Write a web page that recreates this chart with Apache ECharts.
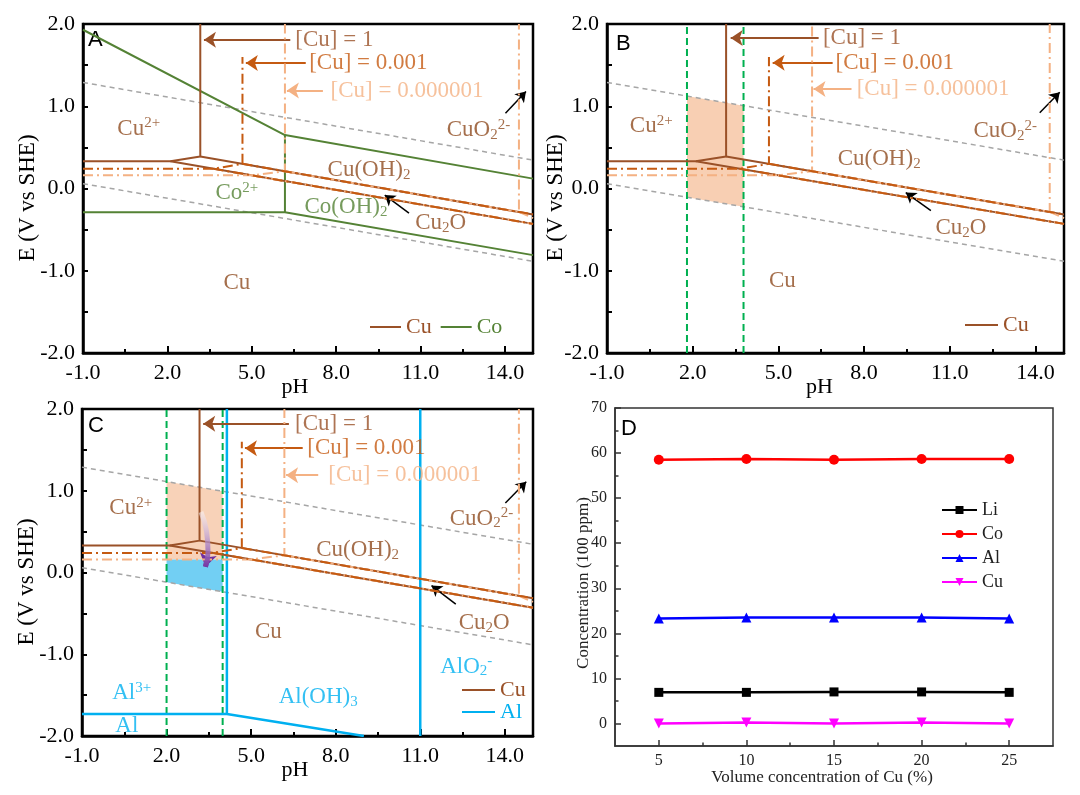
<!DOCTYPE html>
<html><head><meta charset="utf-8">
<script src="https://cdn.jsdelivr.net/npm/echarts@6/dist/echarts.min.js"></script>
<style>html,body{margin:0;padding:0;background:#fff}#c{width:1080px;height:795px}</style>
</head><body><div id="c"></div>
<script>
// ================= DATA =================
// Pourbaix axes
const pHLabelTicks = [-1, 2, 5, 8, 11, 14];
const pHMinorTicks = [0.5, 3.5, 6.5, 9.5, 12.5];
const eLabelTicks = [-2, -1, 0, 1, 2];
const eTicks = [-2, -1.5, -1, -0.5, 0, 0.5, 1, 1.5, 2];

// water stability lines (pH, E)
const waterUpper = [[-1, 1.289], [15, 0.345]];
const waterLower = [[-1, 0.059], [15, -0.885]];

// Cu boundaries, [Cu] = 1
const cu1Lines = [
  [[-1, 0.33], [2.11, 0.33], [3.17, 0.39], [3.17, 2.0]],
  [[3.17, 0.39], [15, -0.315]],
  [[2.11, 0.33], [15, -0.43]]
];
// [Cu] = 0.001
const cu3Lines = [
  [[-1, 0.24], [3.64, 0.24], [4.67, 0.30], [4.67, 1.6]],
  [[4.67, 0.30], [15, -0.315]],
  [[3.64, 0.24], [15, -0.43]]
];
// [Cu] = 0.000001
const cu6Lines = [
  [[-1, 0.16], [4.99, 0.16], [6.18, 0.21], [6.18, 2.0]],
  [[6.18, 0.21], [14.5, -0.285], [14.5, 2.0]],
  [[14.5, -0.285], [15, -0.36]],
  [[4.99, 0.16], [15, -0.43]]
];
// Co boundaries (panel A)
const coLines = [
  [[-1, 1.93], [6.18, 0.65], [15, 0.12]],
  [[6.18, 0.65], [6.18, -0.29]],
  [[-1, -0.29], [6.18, -0.29], [15, -0.81]]
];
// Al boundaries (panel C)
const alLines = [
  [[-1, -1.73], [4.14, -1.73], [9.0, -2.0]],
  [[4.14, -1.73], [4.14, 2.0]],
  [[11.0, -2.0], [11.0, 2.0]]
];
const greenPHB = [1.8, 3.78];
const greenPHC = [2.0, 3.99];
const shadeB = [[1.8, 1.124], [3.78, 1.007], [3.78, -0.223], [1.8, -0.106]];
const shadeCPeach = [[2.0, 1.112], [3.99, 0.995], [3.99, 0.16], [2.0, 0.16]];
const shadeCBlue = [[2.0, 0.16], [3.99, 0.16], [3.99, -0.235], [2.0, -0.118]];
const purpleArrowC = [[3.22, 0.74], [3.42, 0.5], [3.47, 0.25], [3.38, 0.07]];

// text labels: [text, pH, E, colourKey]
const regionLabelsA = [
  ['Cu{sup|2+}', 0.98, 0.73, 'cu'], ['CuO{sub|2}{sup|2-}', 13.06, 0.71, 'cu'],
  ['Cu(OH){sub|2}', 9.17, 0.225, 'cu'], ['Cu{sub|2}O', 11.72, -0.42, 'cu'],
  ['Cu', 4.47, -1.15, 'cu'], ['Co{sup|2+}', 4.47, -0.05, 'co'], ['Co(OH){sub|2}', 8.35, -0.23, 'co']
];
const regionLabelsB = [
  ['Cu{sup|2+}', 0.55, 0.76, 'cu'], ['CuO{sub|2}{sup|2-}', 12.94, 0.70, 'cu'],
  ['Cu(OH){sub|2}', 8.53, 0.355, 'cu'], ['Cu{sub|2}O', 11.39, -0.485, 'cu'], ['Cu', 5.14, -1.13, 'cu']
];
const regionLabelsC = [
  ['Cu{sup|2+}', 0.73, 0.79, 'cu'], ['CuO{sub|2}{sup|2-}', 13.17, 0.66, 'cu'],
  ['Cu(OH){sub|2}', 8.78, 0.276, 'cu'], ['Cu{sub|2}O', 13.27, -0.615, 'cu'], ['Cu', 5.61, -0.725, 'cu'],
  ['AlO{sub|2}{sup|-}', 12.63, -1.15, 'al'], ['Al{sup|3+}', 0.76, -1.47, 'al'],
  ['Al(OH){sub|3}', 7.38, -1.52, 'al'], ['Al', 0.59, -1.88, 'al']
];
const concLabelsA = [['[Cu] = 1', 6.55, 1.81, 'c1'], ['[Cu] = 0.001', 7.04, 1.525, 'c3'], ['[Cu] = 0.000001', 7.8, 1.19, 'c6']];
const concLabelsB = [['[Cu] = 1', 6.56, 1.83, 'c1'], ['[Cu] = 0.001', 7.0, 1.53, 'c3'], ['[Cu] = 0.000001', 7.74, 1.21, 'c6']];
const concLabelsC = [['[Cu] = 1', 6.56, 1.82, 'c1'], ['[Cu] = 0.001', 6.99, 1.52, 'c3'], ['[Cu] = 0.000001', 7.74, 1.19, 'c6']];
// arrows: [from, to, colourKey]
const arrowsA = [[[6.37, 1.81], [3.3, 1.81], 'c1'], [[6.92, 1.525], [4.79, 1.525], 'c3'], [[7.53, 1.19], [6.25, 1.19], 'c6'],
  [[14.02, 0.916], [14.75, 1.18], 'k'], [[10.59, -0.30], [9.73, -0.08], 'k']];
const arrowsB = [[[6.41, 1.83], [3.33, 1.83], 'c1'], [[6.9, 1.53], [4.8, 1.53], 'c3'], [[7.56, 1.21], [6.23, 1.21], 'c6'],
  [[14.15, 0.92], [14.85, 1.17], 'k'], [[10.34, -0.27], [9.46, -0.05], 'k']];
const arrowsC = [[[6.34, 1.82], [3.3, 1.82], 'c1'], [[6.83, 1.52], [4.78, 1.52], 'c3'], [[7.38, 1.19], [6.24, 1.19], 'c6'],
  [[14.02, 0.85], [14.76, 1.11], 'k'], [[12.26, -0.386], [11.4, -0.16], 'k']];

// Panel D
const dCategories = [5, 10, 15, 20, 25];
const dXLabels = [5, 10, 15, 20, 25];
const dXMinor = [7.5, 12.5, 17.5, 22.5];
const dYLabels = [0, 10, 20, 30, 40, 50, 60, 70];
const dYMinor = [5, 15, 25, 35, 45, 55, 65];
const liValues = [6.9, 6.9, 7.0, 7.0, 6.9];
const coValues = [58.5, 58.7, 58.5, 58.7, 58.7];
const alValues = [23.3, 23.5, 23.5, 23.5, 23.3];
const cuValues = [0.0, 0.2, 0.0, 0.2, 0.0];

// ================= STYLE / LAYOUT =================
const SERIF = '"Liberation Serif", "Times New Roman", serif';
const SANS = '"Liberation Sans", Arial, sans-serif';
const COL = { c1: '#9a5128', c3: '#c55a11', c6: '#f4b183', cu: '#8f4b1f', co: '#548235', al: '#00b0f0', k: '#000000' };
const panels = [
  { left: 83, top: 24, width: 450, height: 329, letter: 'A', lx: 88, ly: 29, yGap: 44, xPad: 26 },
  { left: 607, top: 24, width: 457, height: 329, letter: 'B', lx: 616, ly: 33, yGap: 40, xPad: 32 },
  { left: 82, top: 409, width: 451, height: 327, letter: 'C', lx: 88, ly: 415, yGap: 44, xPad: 25 }
];
const dGrid = { left: 615, top: 408, width: 438, height: 338 };

const grids = [], xAxes = [], yAxes = [], series = [], graphics = [];

function richFor(color, size) {
  const s = Math.round(size * 0.64), p = Math.round(size * 0.45);
  return {
    sup: { fontSize: s, fontFamily: SERIF, color, padding: [0, 0, p, 0] },
    sub: { fontSize: s, fontFamily: SERIF, color, padding: [p, 0, 0, 0] }
  };
}
function poly(name, pts, xi, yi, color, width, type, z) {
  return { type: 'line', name, xAxisIndex: xi, yAxisIndex: yi, data: pts, symbol: 'none', showSymbol: false,
    lineStyle: { color, width, type }, itemStyle: { color }, silent: true, z: z || 2, clip: true, emphasis: { disabled: true } };
}
function shade(pts, color, xi, yi) {
  return { type: 'custom', xAxisIndex: xi, yAxisIndex: yi, data: [pts[0]], silent: true, z: 1,
    renderItem: (params, api) => ({ type: 'polygon', shape: { points: pts.map(p => api.coord(p)) }, style: { fill: color } }) };
}
function textSeries(items, xi, yi, size, align) {
  return { type: 'scatter', xAxisIndex: xi, yAxisIndex: yi, symbolSize: 1, silent: true, z: 10,
    itemStyle: { color: 'rgba(0,0,0,0)' },
    data: items.map(it => ({ value: [it[1], it[2]], label: { show: true, position: 'inside', align, verticalAlign: 'middle',
      formatter: it[0], color: COL[it[3]], fontSize: size, fontFamily: SERIF, rich: richFor(COL[it[3]], size) } })) };
}
function arrowLine(from, to, color, width, headSize, xi, yi) {
  return { type: 'line', xAxisIndex: xi, yAxisIndex: yi, data: [from], symbol: 'none', lineStyle: { width: 0 },
    itemStyle: { color }, silent: true, z: 9,
    markLine: { silent: true, animation: false, symbol: ['none', 'arrow'], symbolSize: headSize,
      label: { show: false }, emphasis: { disabled: true },
      itemStyle: { color },
      lineStyle: { color, width, type: 'solid' },
      data: [[{ coord: from }, { coord: to }]] } };
}

panels.forEach((p, i) => {
  grids.push({ left: p.left, top: p.top, width: p.width, height: p.height, show: true, borderColor: '#000', borderWidth: 2.5,
    backgroundColor: 'transparent', outerBoundsMode: 'none' });
  const axisLine = { show: true, onZero: false, lineStyle: { color: '#000', width: 2.5 } };
  xAxes.push({ gridIndex: i, type: 'value', min: -1, max: 15, position: 'bottom', axisLine,
    axisTick: { show: true, inside: true, length: 7, customValues: pHLabelTicks, lineStyle: { color: '#000', width: 2 } },
    axisLabel: { show: true, customValues: pHLabelTicks, formatter: v => v.toFixed(1), fontSize: 22, fontFamily: SERIF, color: '#000', margin: 9 },
    splitLine: { show: false },
    name: 'pH', nameLocation: 'middle', nameGap: 23, nameMoveOverlap: false,
    nameTextStyle: { fontSize: 22, fontFamily: SERIF, color: '#000', padding: [0, p.xPad, 0, 0] } });
  xAxes.push({ gridIndex: i, type: 'value', min: -1, max: 15, position: 'bottom', axisLine: { show: false, onZero: false },
    axisTick: { show: true, inside: true, length: 4, customValues: pHMinorTicks, lineStyle: { color: '#000', width: 2 } },
    axisLabel: { show: false }, splitLine: { show: false } });
  yAxes.push({ gridIndex: i, type: 'value', min: -2, max: 2, position: 'left', axisLine,
    axisTick: { show: true, inside: true, length: 5, customValues: eTicks, lineStyle: { color: '#000', width: 2 } },
    axisLabel: { show: true, customValues: eLabelTicks, formatter: v => v.toFixed(1), fontSize: 22, fontFamily: SERIF, color: '#000', margin: 8 },
    splitLine: { show: false },
    name: 'E (V vs SHE)', nameLocation: 'middle', nameGap: p.yGap, nameMoveOverlap: false,
    nameTextStyle: { fontSize: 23, fontFamily: SERIF, color: '#000', padding: [0, 19, 0, 0] } });
  graphics.push({ type: 'text', left: p.lx, top: p.ly, style: { text: p.letter, fontSize: 22, fontFamily: SANS, fill: '#000' } });

  const xi = 2 * i, yi = i;
  if (i === 1) series.push(shade(shadeB, '#f8cfb3', xi, yi));
  if (i === 2) { series.push(shade(shadeCPeach, '#f8d2b8', xi, yi)); series.push(shade(shadeCBlue, '#72cff3', xi, yi)); }
  series.push(poly('_w', waterUpper, xi, yi, '#a6a6a6', 1.5, [5, 4]));
  series.push(poly('_w', waterLower, xi, yi, '#a6a6a6', 1.5, [5, 4]));
  const greens = i === 1 ? greenPHB : i === 2 ? greenPHC : [];
  greens.forEach(ph => series.push(poly('_g', [[ph, -2], [ph, 2]], xi, yi, '#00b050', 2, [7, 4], 3)));
  if (i === 0) coLines.forEach((l, k) => series.push(poly(k === 0 ? 'Co' : '_co', l, xi, yi, COL.co, 2, 'solid', 3)));
  if (i === 2) alLines.forEach((l, k) => series.push(poly(k === 0 ? 'Al' : '_al', l, xi, yi, COL.al, 2.5, 'solid', 3)));
  cu1Lines.forEach((l, k) => series.push(poly(k === 0 ? 'Cu' : '_cu1', l, xi, yi, COL.c1, 2, 'solid', 4)));
  cu6Lines.forEach(l => series.push(poly('_cu6', l, xi, yi, COL.c6, 2, [10, 4, 2, 4], 5)));
  cu3Lines.forEach(l => series.push(poly('_cu3', l, xi, yi, COL.c3, 2, [10, 4, 2, 4], 6)));
  if (i === 2) {
    const pa = poly('_pa', purpleArrowC, xi, yi, { type: 'linear', x: 0, y: 0, x2: 0, y2: 1,
      colorStops: [{ offset: 0, color: 'rgba(255,255,255,0.5)' }, { offset: 1, color: '#7030a0' }] }, 5, 'solid', 8);
    pa.smooth = true;
    series.push(pa);
    series.push(arrowLine([3.44, 0.16], purpleArrowC[3], '#7030a0', 5, 13, xi, yi));
  }
  const regs = [regionLabelsA, regionLabelsB, regionLabelsC][i];
  const concs = [concLabelsA, concLabelsB, concLabelsC][i];
  const arrs = [arrowsA, arrowsB, arrowsC][i];
  series.push(textSeries(regs, xi, yi, 23, 'center'));
  series.push(textSeries(concs, xi, yi, 23, 'left'));
  arrs.forEach(a => {
    const black = a[2] === 'k';
    series.push(arrowLine(a[0], a[1], COL[a[2]], black ? 1.5 : 2, black ? 10 : 12, xi, yi));
  });
});

// ---- panel D ----
grids.push(Object.assign({ show: true, borderColor: '#333', borderWidth: 1.5, backgroundColor: 'transparent', outerBoundsMode: 'none' }, dGrid));
const dLine = { show: true, onZero: false, lineStyle: { color: '#333', width: 1.5 } };
xAxes.push({ gridIndex: 3, type: 'value', min: 2.5, max: 27.5, position: 'bottom', axisLine: dLine,
  axisTick: { show: true, inside: true, length: 6, customValues: dXLabels, lineStyle: { color: '#333', width: 1.5 } },
  axisLabel: { show: true, customValues: dXLabels, fontSize: 16, fontFamily: SERIF, color: '#222', margin: 7 },
  splitLine: { show: false },
  name: 'Volume concentration of Cu (%)', nameLocation: 'middle', nameGap: 23, nameMoveOverlap: false,
  nameTextStyle: { fontSize: 17, fontFamily: SERIF, color: '#222', padding: [0, 24, 0, 0] } });
xAxes.push({ gridIndex: 3, type: 'value', min: 2.5, max: 27.5, position: 'bottom', axisLine: { show: false, onZero: false },
  axisTick: { show: true, inside: true, length: 3.5, customValues: dXMinor, lineStyle: { color: '#333', width: 1.5 } },
  axisLabel: { show: false }, splitLine: { show: false } });
yAxes.push({ gridIndex: 3, type: 'value', min: -5, max: 70, position: 'left', axisLine: dLine,
  axisTick: { show: true, inside: true, length: 6, customValues: dYLabels, lineStyle: { color: '#333', width: 1.5 } },
  axisLabel: { show: true, customValues: dYLabels, fontSize: 16, fontFamily: SERIF, color: '#222', margin: 8 },
  splitLine: { show: false },
  name: 'Concentration (100 ppm)', nameLocation: 'middle', nameGap: 23, nameMoveOverlap: false,
  nameTextStyle: { fontSize: 17, fontFamily: SERIF, color: '#222', padding: [0, 12, 0, 0] } });
yAxes.push({ gridIndex: 3, type: 'value', min: -5, max: 70, position: 'left', axisLine: { show: false, onZero: false },
  axisTick: { show: true, inside: true, length: 3.5, customValues: dYMinor, lineStyle: { color: '#333', width: 1.5 } },
  axisLabel: { show: false }, splitLine: { show: false } });
graphics.push({ type: 'text', left: 621, top: 418, style: { text: 'D', fontSize: 22, fontFamily: SANS, fill: '#000' } });

const dSeriesDef = [
  ['D:Li', liValues, '#000000', 'rect', 9],
  ['D:Co', coValues, '#ff0000', 'circle', 10],
  ['D:Al', alValues, '#0000ff', 'triangle', 10],
  ['D:Cu', cuValues, '#ff00ff', 'path://M0,0L10,0L5,9Z', 10]
];
dSeriesDef.forEach(d => series.push({ type: 'line', name: d[0], xAxisIndex: 6, yAxisIndex: 3,
  data: dCategories.map((x, k) => [x, d[1][k]]), symbol: d[3], symbolSize: d[4], showSymbol: true,
  lineStyle: { color: d[2], width: 2.5 }, itemStyle: { color: d[2] }, z: 5, emphasis: { disabled: true } }));

const legendBase = { padding: 0, selectedMode: false, icon: 'rect', itemHeight: 2, textStyle: { fontSize: 22, fontFamily: SERIF } };
const option = {
  animation: false,
  backgroundColor: '#fff',
  grid: grids, xAxis: xAxes, yAxis: yAxes, series, graphic: graphics,
  legend: [
    Object.assign({}, legendBase, { left: 370, top: 316, orient: 'horizontal', itemWidth: 31, itemGap: 9,
      data: [{ name: 'Cu', textStyle: { color: COL.c1 } }, { name: 'Co', textStyle: { color: COL.co } }] }),
    Object.assign({}, legendBase, { left: 965, top: 314, orient: 'horizontal', itemWidth: 33,
      data: [{ name: 'Cu', textStyle: { color: COL.c1 } }] }),
    Object.assign({}, legendBase, { left: 462, top: 679, orient: 'vertical', itemWidth: 33, itemGap: 0,
      textStyle: { fontSize: 22, fontFamily: SERIF, lineHeight: 21 },
      data: [{ name: 'Cu', textStyle: { color: COL.c1 } }, { name: 'Al', textStyle: { color: COL.al } }] }),
    { left: 941, top: 501, orient: 'vertical', padding: 0, selectedMode: false, itemWidth: 35, itemHeight: 10, itemGap: 6,
      textStyle: { fontSize: 18, fontFamily: SERIF, color: '#222', lineHeight: 18 },
      formatter: n => n.slice(2), data: ['D:Li', 'D:Co', 'D:Al', 'D:Cu'] }
  ]
};
const chart = echarts.init(document.getElementById('c'), null, { renderer: 'canvas' });
chart.setOption(option);
</script>
</body></html>
